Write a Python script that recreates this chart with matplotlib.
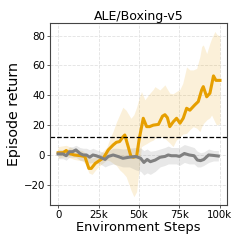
import numpy as np
import matplotlib
matplotlib.use("Agg")
import matplotlib.pyplot as plt
from matplotlib.ticker import FuncFormatter

title = "ALE/Boxing-v5"
xlabel = "Environment Steps"
ylabel = "Episode return"
human_score = 12.1

# orange series (mean)
o_x = [0, 3000, 5000, 7000, 10000, 14000, 16500, 19000, 20500, 23000, 26000, 28000, 31000,
       34000, 36000, 38000, 40000, 41200, 43300, 45000, 46500, 48500, 50000, 52600, 54700,
       56500, 58800, 62000, 64500, 66000, 67500, 69000, 71200, 73200, 75300, 77300, 79400,
       81400, 84500, 86600, 88700, 89700, 91800, 93800, 96000, 97500, 100000]
o_y = [1.5, 1.5, 3, 1, 0, -0.5, -1, -9, -9, -5.6, -3.4, -2, 3.4,
       6.7, 8.5, 9, 12, 13.4, 5.6, -1, -1.5, -1, 10, 24.6, 19,
       19, 20, 20.5, 26, 27, 25, 19, 22.3, 24.6, 21.3, 24.6, 31.3,
       30, 33.6, 35.8, 43.6, 45.8, 39, 41.4, 53, 50, 50]

# orange band
ob_x = [0, 5000, 10000, 15000, 17000, 19000, 21000, 24000, 27000, 30000, 32000, 34000, 36000,
        38000, 40000, 42000, 45000, 46800, 48500, 50000, 51500, 53600, 55000, 56700, 58800,
        59800, 62900, 66000, 67000, 69000, 71000, 73000, 75300, 77000, 79400, 81400, 83500,
        85600, 87600, 88700, 89700, 91800, 93800, 94800, 96900, 97900, 100000]
ob_lo = [-2, -1, -3, -4, -6, -12, -13, -9, -6, -3.4, -4, -5.6, -7,
         -10, -12, -14.5, -23.5, -28, -24.6, -10, 5.6, 7, 7.8, 9, 10,
         11, 12.3, 11, 10, 8, 5.6, 10, 12, 14, 14.5, 17, 19,
         18, 15.7, 19, 21, 23.5, 25, 26.8, 22, 20, 21]
ob_hi = [5.6, 6.5, 4, 3, 1, -2, -2, -1, 2, 5, 11, 16, 22,
         27, 32, 30, 24.6, 27, 32, 38, 42.5, 37, 39, 41.4, 44,
         45.8, 43.6, 47, 45, 41.4, 41, 42.5, 44, 48, 59, 57, 57,
         58, 66, 72.7, 73.8, 68, 75, 78, 82.8, 81, 79.4]

# gray series (mean)
g_x = [0, 3000, 5000, 7000, 9000, 11000, 13500, 15500, 17500, 19500, 21500, 23500, 26000,
       29000, 31000, 34000, 37000, 40000, 44000, 48000, 51000, 53000, 55000, 57000, 60000,
       63000, 66000, 68000, 70000, 73000, 75000, 78000, 81000, 84000, 86000, 88000, 90000,
       93000, 96000, 99000]
g_y = [0.7, 0.7, -0.5, 2.2, 2.2, 3.4, 1, 0, 0, -1.5, 0, -0.5, -1.5,
       -3, -1, 0, -1, -2.2, -1.5, -1, -2.2, -5, -3, -4.5, -3.4,
       -1.5, -1, 0, -0.5, -0.5, -1, 1, 0, -0.5, -3.4, -3.8, -3, 0, -0.3, -0.7]
g_lo = [-2.5, -2.5, -3.5, -1.5, -1.5, -1.5, -3.5, -4, -4.5, -5.5, -5, -5, -6,
        -8, -7, -6, -7, -8, -8, -10, -11, -13.4, -12, -13, -11,
        -8, -7, -6, -6, -6, -7, -5, -6, -6, -8, -8, -7, -5, -4, -4]
g_hi = [3.5, 3.5, 2.5, 5.5, 5.5, 6.5, 5, 4.5, 4.5, 3.5, 4.5, 3.5, 2.5,
        1.5, 3, 4.5, 4.5, 4, 4.5, 5, 4.7, 3, 4, 2.5, 3,
        4, 5, 6, 5, 5, 5, 7, 6, 5, 2.5, 1.5, 2, 4, 3, 3]

orange = "#e69f00"
gray = "#808080"

fig = plt.figure(figsize=(2.44, 2.44), dpi=100)
ax = fig.add_axes([0.205, 0.160, 0.725, 0.746])

ax.fill_between(ob_x, ob_lo, ob_hi, color=orange, alpha=0.15, linewidth=0)
ax.fill_between(g_x, g_lo, g_hi, color=gray, alpha=0.18, linewidth=0)
ax.plot(o_x, o_y, color=orange, lw=2.2, solid_joinstyle="round")
ax.plot(g_x, g_y, color=gray, lw=2.2, solid_joinstyle="round")
ax.axhline(human_score, color="black", ls="--", lw=0.9)

ax.set_xlim(-5000, 104300)
ax.set_ylim(-33.5, 88.5)
ax.set_xticks([0, 25000, 50000, 75000, 100000])
ax.xaxis.set_major_formatter(FuncFormatter(lambda v, p: "0" if v == 0 else f"{int(v/1000)}k"))
ax.set_yticks([-20, 0, 20, 40, 60, 80])
ax.grid(True, color="#e2e2e2", lw=0.6, ls="--")
ax.set_axisbelow(True)
for s in ax.spines.values():
    s.set_color("#444444")
    s.set_linewidth(0.8)
ax.tick_params(labelsize=7.4, length=2, width=0.6, color="#444444", pad=1.5)
ax.set_title(title, fontsize=9, pad=2)
ax.set_xlabel(xlabel, fontsize=9.4, labelpad=1)
ax.set_ylabel(ylabel, fontsize=10.3, labelpad=2)

fig.savefig("out.png", dpi=100)
